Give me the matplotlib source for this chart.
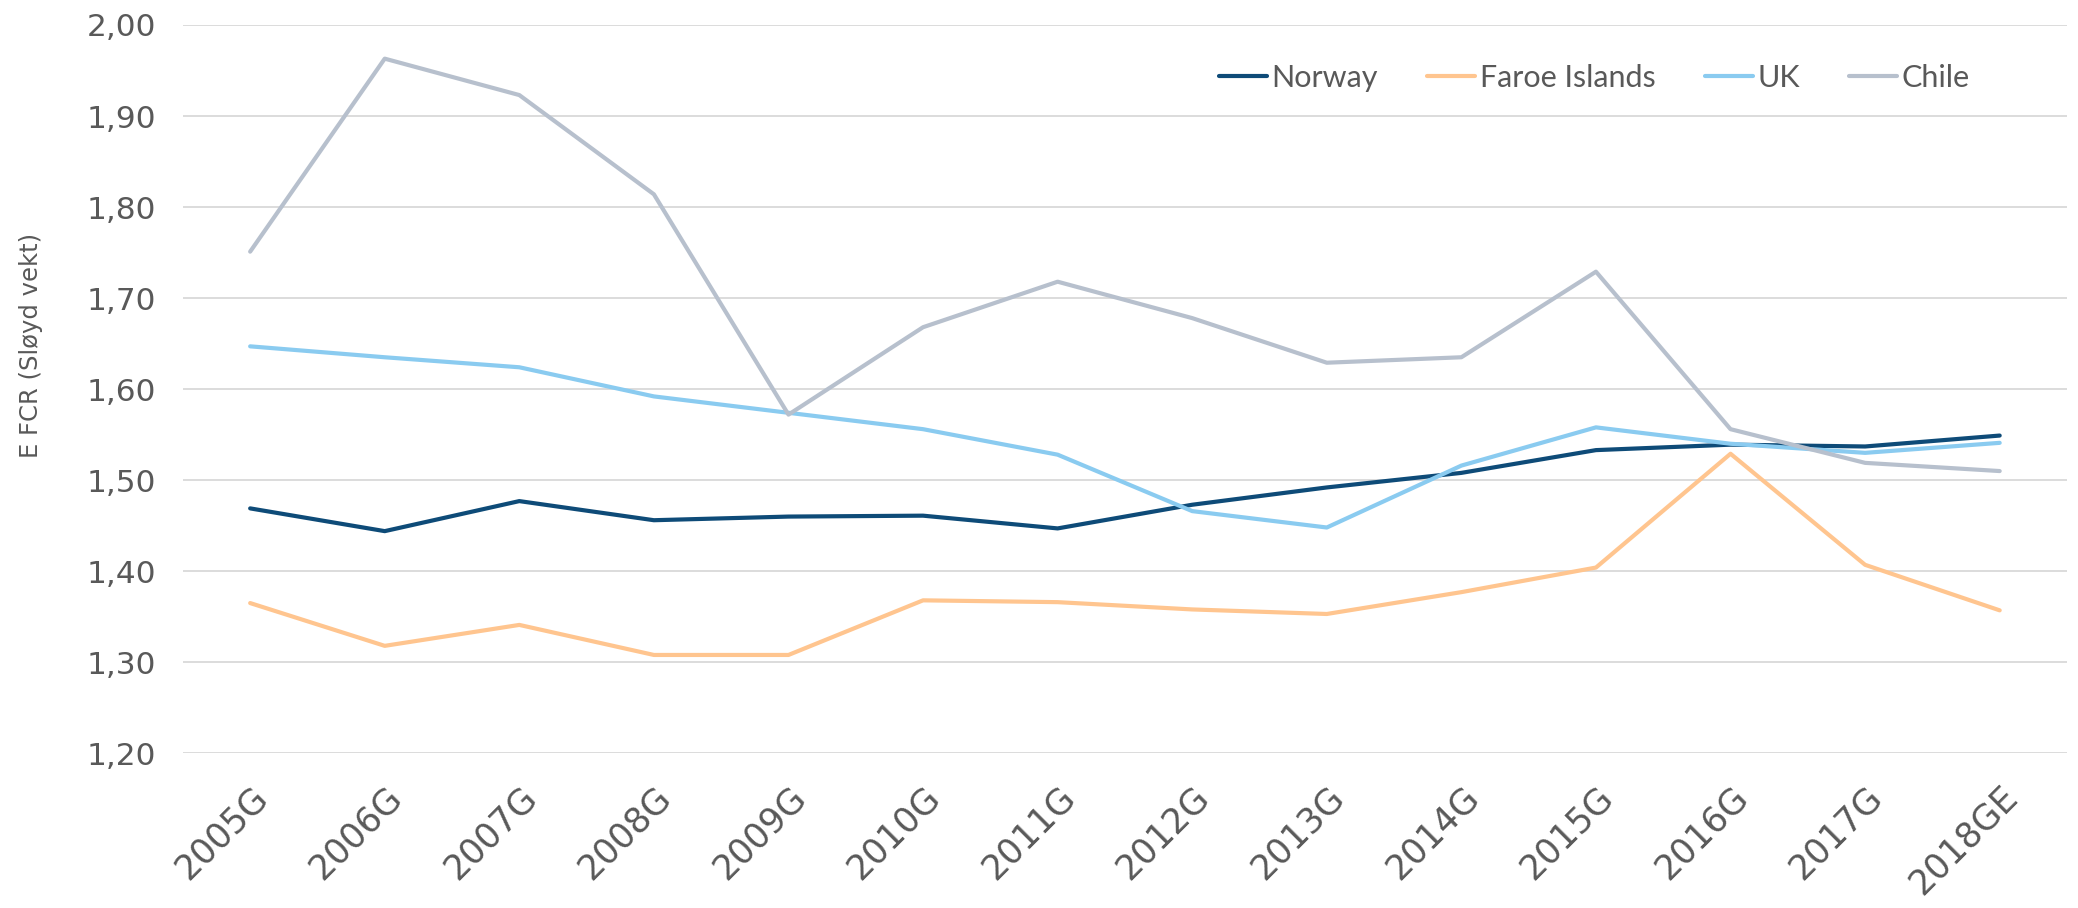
import matplotlib.pyplot as plt

# Categories and series values
years = ["2005G", "2006G", "2007G", "2008G", "2009G", "2010G", "2011G",
         "2012G", "2013G", "2014G", "2015G", "2016G", "2017G", "2018GE"]
norway = [1.469, 1.444, 1.477, 1.456, 1.460, 1.461, 1.447,
          1.473, 1.492, 1.508, 1.533, 1.539, 1.537, 1.549]
faroe = [1.365, 1.318, 1.341, 1.308, 1.308, 1.368, 1.366,
         1.358, 1.353, 1.377, 1.404, 1.529, 1.407, 1.357]
uk = [1.647, 1.635, 1.624, 1.592, 1.574, 1.556, 1.528,
      1.466, 1.448, 1.516, 1.558, 1.540, 1.530, 1.541]
chile = [1.751, 1.963, 1.923, 1.814, 1.572, 1.668, 1.718,
         1.678, 1.629, 1.635, 1.729, 1.556, 1.519, 1.510]
y_ticks = [1.20, 1.30, 1.40, 1.50, 1.60, 1.70, 1.80, 1.90, 2.00]

series = [("Norway", norway, "#0E4B78"),
          ("Faroe Islands", faroe, "#FFC58F"),
          ("UK", uk, "#8ACBF0"),
          ("Chile", chile, "#B7C0CD")]

text_col = "#595959"
plt.rcParams["font.family"] = ["DejaVu Sans"]

fig = plt.figure(figsize=(20.78, 9.08), dpi=100)
ax = fig.add_axes([0.088, 0.1704, 0.9067, 0.8021])

x = list(range(len(years)))
for name, vals, col in series:
    ax.plot(x, vals, color=col, lw=3.0, label=name, solid_capstyle="round")

ax.set_xlim(-0.5, len(years) - 0.5)
ax.set_ylim(1.20, 2.00)
ax.set_yticks(y_ticks)
ax.set_yticklabels([f"{v:.2f}".replace(".", ",") for v in y_ticks],
                   fontsize=22.5, color=text_col)
ax.set_xticks(x)
ax.set_xticklabels(years, rotation=45, ha="right", rotation_mode="anchor",
                   fontsize=25, color=text_col)
ax.tick_params(axis="both", length=0)
ax.tick_params(axis="x", pad=19)
ax.tick_params(axis="y", pad=19)

ax.grid(axis="y", color="#D9D9D9", lw=1.3)
ax.set_axisbelow(True)
for s in ax.spines.values():
    s.set_visible(False)

# y-axis title sits a little above the axis centre in the original
fig.text(31 / 2078, 1 - 345 / 908, "E FCR (Sløyd vekt)", rotation=90,
         ha="center", va="center", fontsize=17.5, color=text_col)

ax.legend(loc="center right", bbox_to_anchor=(0.9485, 0.927), ncol=4,
          frameon=False, borderpad=0, borderaxespad=0,
          prop={"family": "Lato", "size": 22},
          handlelength=1.57, handletextpad=0.16,
          columnspacing=1.6, labelcolor=text_col)

plt.savefig("out.png", dpi=100)
plt.close()
